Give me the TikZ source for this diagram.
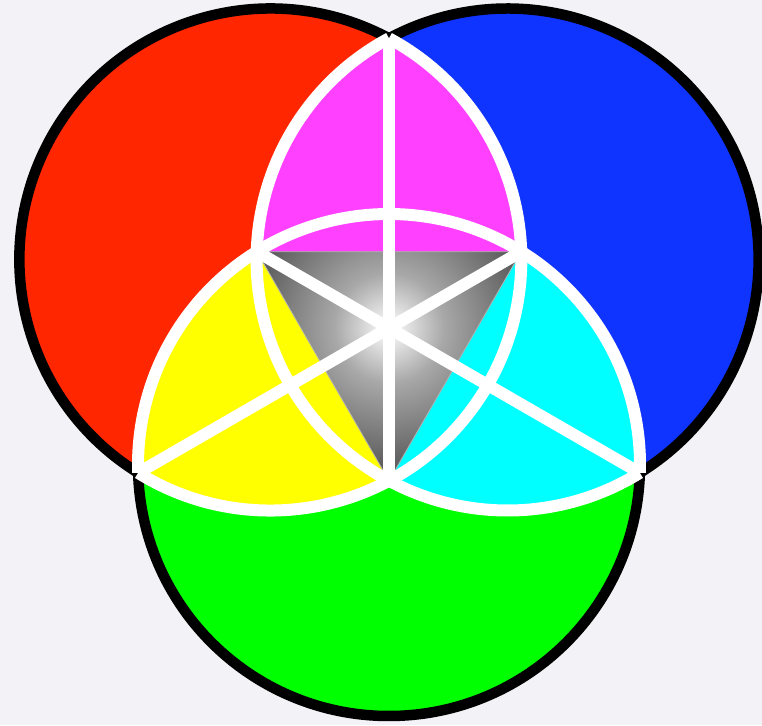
\documentclass[tikz,border=0pt]{standalone}
\definecolor{bgc}{HTML}{F2F2F7}
\definecolor{redc}{HTML}{FF2600}
\definecolor{bluec}{HTML}{1034FF}
\definecolor{greenc}{HTML}{00FF00}
\definecolor{magc}{HTML}{FF40FF}
\definecolor{yelc}{HTML}{FFFF00}
\definecolor{cyac}{HTML}{00FFFF}
\definecolor{shA}{HTML}{A8A8A8}
\definecolor{shB}{HTML}{505050}
\pgfdeclareradialshading{trishade}{\pgfpoint{0bp}{0bp}}{color(0bp)=(white); color(9bp)=(shA); color(25bp)=(shB); color(50bp)=(shB)}
\begin{document}
\begin{tikzpicture}[x=1pt,y=1pt,
  blackarc/.style={line width=10.5pt, black, line cap=butt},
  whitearc/.style={line width=12pt, white, line cap=butt},
  whiteline/.style={line width=12pt, white, line cap=butt},
  region/.style={draw=none}]
\pgfmathsetmacro\cc{137}
\pgfmathsetmacro\RR{251}
\pgfmathsetmacro\al{acos(\cc*sqrt(3)/2/\RR)}
\pgfmathsetmacro\hh{\RR*sin(\al)}
\pgfmathsetmacro\rin{\hh-\cc/2}
\pgfmathsetmacro\rout{\hh+\cc/2}
\pgfmathsetmacro\rsh{\rin}
\useasboundingbox (-389,-397) rectangle (373,328);
\fill[bgc] (-389,-397) rectangle (373,328);
\coordinate (O) at (0,0);
\coordinate (Cr) at (150:\cc pt);
\coordinate (Cb) at (30:\cc pt);
\coordinate (Cg) at (270:\cc pt);
\coordinate (Vt) at (90:\rout pt);
\coordinate (Vl) at (210:\rout pt);
\coordinate (Vr) at (330:\rout pt);
\coordinate (Ib) at (270:\rin pt);
\coordinate (Ir) at (30:\rin pt);
\coordinate (Il) at (150:\rin pt);
% base circles
\fill[redc] (Cr) circle[radius=\RR pt];
\fill[bluec] (Cb) circle[radius=\RR pt];
\fill[greenc] (Cg) circle[radius=\RR pt];
% magenta
\begin{scope}
\clip (Cr) circle[radius=\RR pt];
\clip (Cb) circle[radius=\RR pt];
\fill[magc] (O) -- (30:1000pt) -- (90:1000pt) -- (150:1000pt) -- cycle;
\end{scope}
% yellow
\begin{scope}
\clip (Cr) circle[radius=\RR pt];
\clip (Cg) circle[radius=\RR pt];
\fill[yelc] (O) -- (150:1000pt) -- (210:1000pt) -- (270:1000pt) -- cycle;
\end{scope}
% cyan
\begin{scope}
\clip (Cb) circle[radius=\RR pt];
\clip (Cg) circle[radius=\RR pt];
\fill[cyac] (O) -- (270:1000pt) -- (330:1000pt) -- (390:1000pt) -- cycle;
\end{scope}
% gray triangle
\begin{scope}
\clip (Il) -- (Ir) -- (Ib) -- cycle;
\shade[shading=trishade] (O) circle[radius=\rsh pt];
\end{scope}
\draw[gray!60, line width=0.8pt] (Il) -- (Ir) -- (Ib) -- cycle;
% black outer arcs
\draw[blackarc] (Vt) arc[start angle=\al, end angle=300-\al, radius=\RR pt];
\draw[blackarc] (Vr) arc[start angle=\al-120, end angle=180-\al, radius=\RR pt];
\draw[blackarc] (Vl) arc[start angle=120+\al, end angle=420-\al, radius=\RR pt];
% white inner arcs
\draw[whitearc] (Vl) arc[start angle=-60-\al, end angle=\al, radius=\RR pt];
\draw[whitearc] (Vt) arc[start angle=180-\al, end angle=240+\al, radius=\RR pt];
\draw[whitearc] (Vr) arc[start angle=60-\al, end angle=120+\al, radius=\RR pt];
% white spokes
\draw[whiteline] (Vt) -- (Ib);
\draw[whiteline] (Vl) -- (Ir);
\draw[whiteline] (Vr) -- (Il);
\end{tikzpicture}
\end{document}
